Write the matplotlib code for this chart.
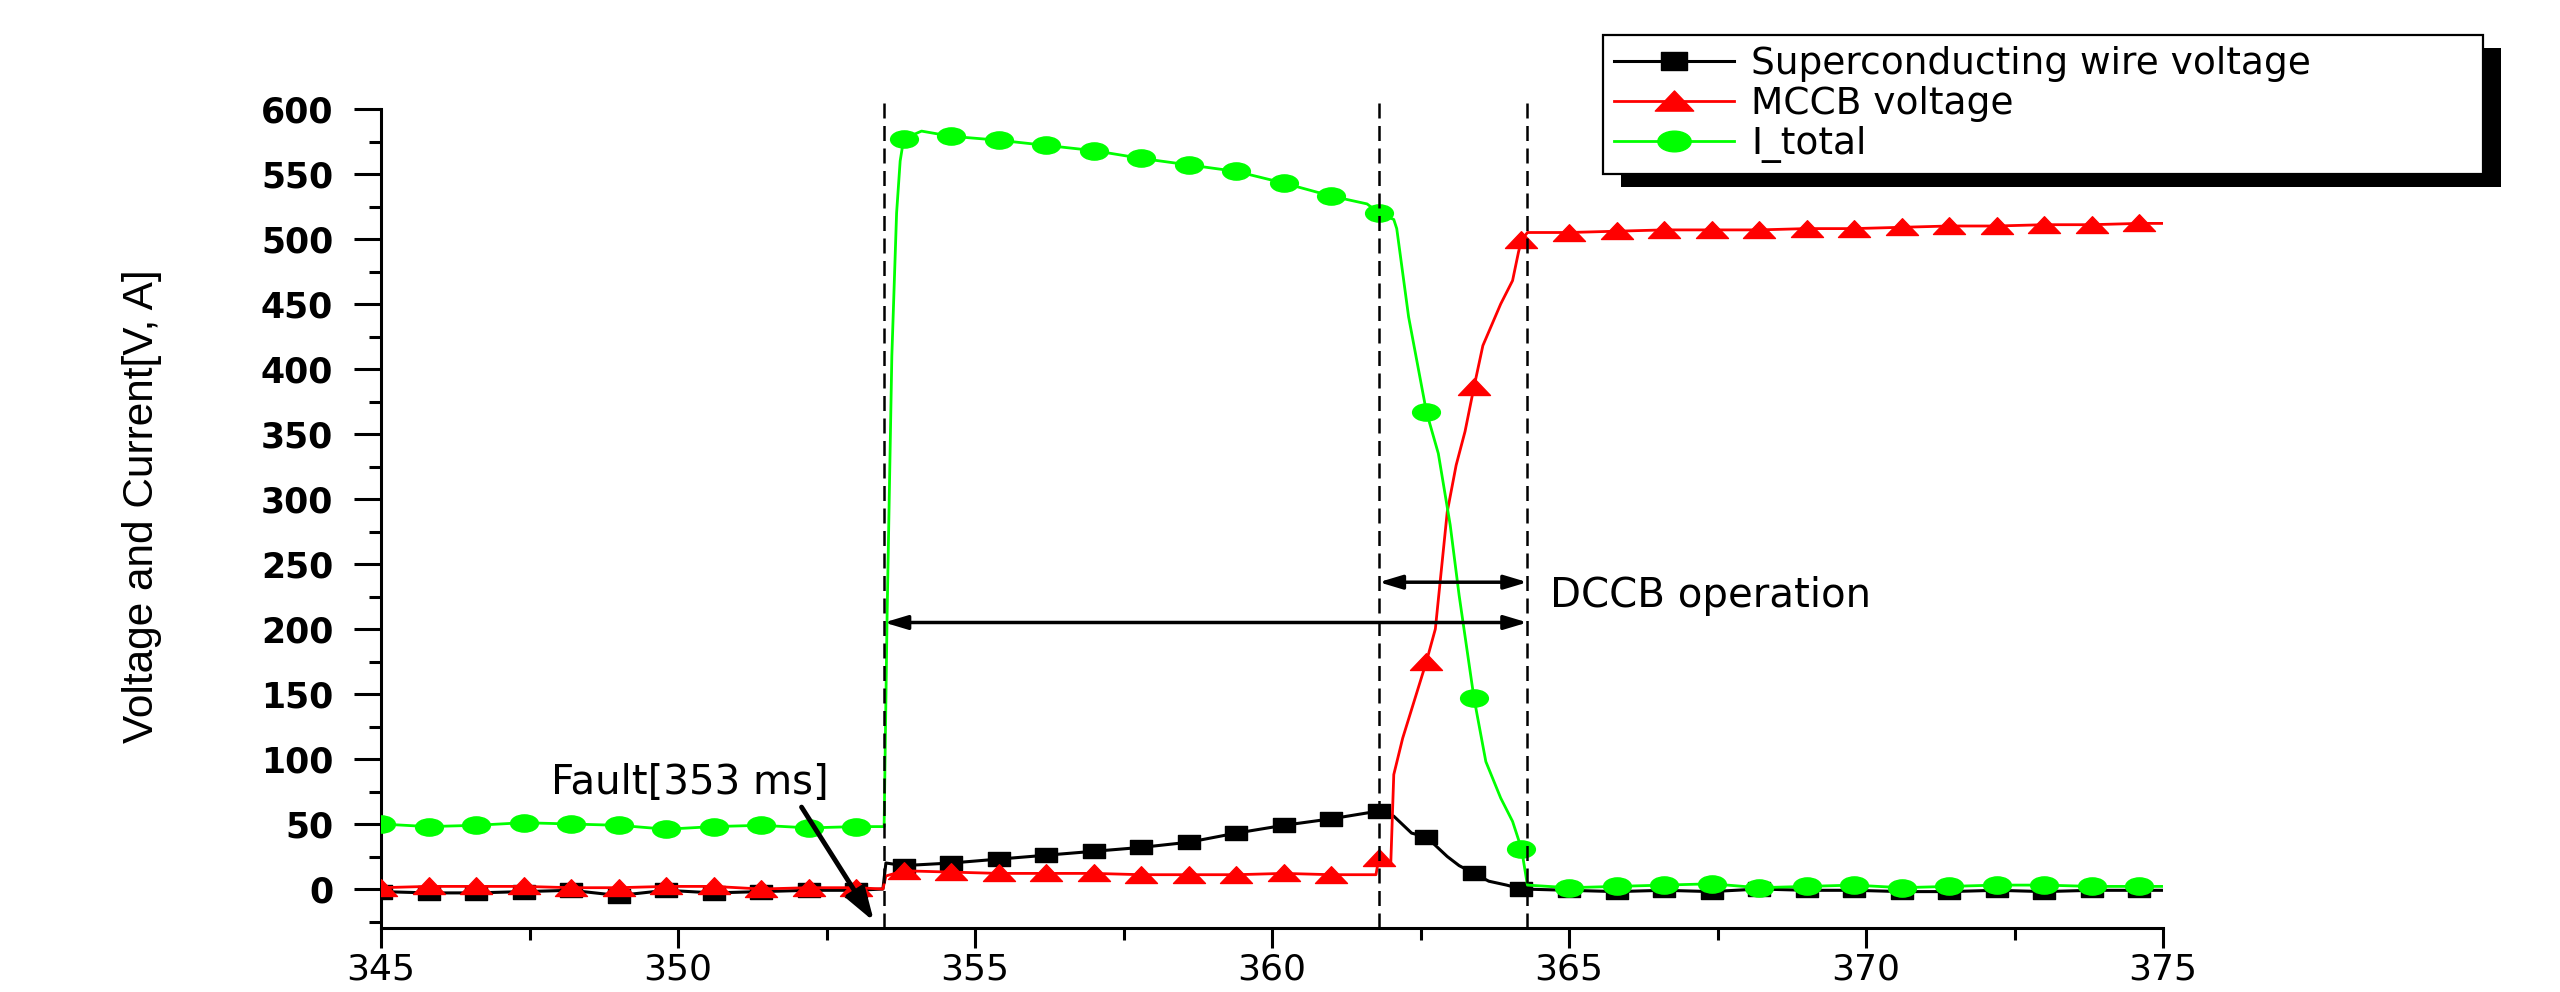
import numpy as np
import matplotlib
matplotlib.use("Agg")
import matplotlib.pyplot as plt
from matplotlib.path import Path
from matplotlib.transforms import Affine2D
from matplotlib.patches import Rectangle

# ---------------- data ----------------
MARK_T = [345.0, 345.8, 346.6, 347.4, 348.2, 349.0, 349.8, 350.6, 351.4, 352.2, 353.0,
          353.8, 354.6, 355.4, 356.2, 357.0, 357.8, 358.6, 359.4, 360.2, 361.0, 361.8,
          362.6, 363.4, 364.2, 365.0, 365.8, 366.6, 367.4, 368.2, 369.0, 369.8, 370.6,
          371.4, 372.2, 373.0, 373.8, 374.6]

t_sc = [345.0, 345.8, 346.6, 347.4, 348.2, 349.0, 349.8, 350.6, 351.4, 352.2, 353.0,
        353.45, 353.5, 353.8, 354.6, 355.4, 356.2, 357.0, 357.8, 358.6, 359.4, 360.2,
        361.0, 361.8, 362.05, 362.35, 362.6, 362.95, 363.15, 363.4, 363.65, 363.95,
        364.2, 365.0, 365.8, 366.6, 367.4, 368.2, 369.0, 369.8, 370.6, 371.4, 372.2,
        373.0, 373.8, 374.6, 375.0]
v_sc = [-2, -3, -3, -2, -1, -5, -1, -3, -2, -1, -1,
        0, 20, 18, 20, 23, 26, 29, 32, 36, 43, 49,
        54, 60, 56, 43, 40, 25, 18, 12, 6, 3,
        0, -1, -2, -1, -2, 0, -1, -1, -2, -2, -1,
        -2, -1, -1, -1]

t_mccb = [345.0, 345.8, 346.6, 347.4, 348.2, 349.0, 349.8, 350.6, 351.4, 352.2, 353.0,
          353.45, 353.5, 353.8, 354.6, 355.4, 356.2, 357.0, 357.8, 358.6, 359.4, 360.2,
          361.0, 361.75, 361.8, 362.0, 362.05, 362.2, 362.6, 362.75, 362.85, 362.95,
          363.1, 363.25, 363.4, 363.55, 363.85, 364.05, 364.15, 364.2, 364.3,
          365.0, 365.8, 366.6, 367.4, 368.2, 369.0, 369.8, 370.6, 371.4, 372.2,
          373.0, 373.8, 374.6, 375.0]
v_mccb = [1, 2, 2, 2, 1, 1, 2, 2, 0, 1, 1,
          0, 10, 14, 13, 12, 12, 12, 11, 11, 11, 12,
          11, 11, 24, 20, 88, 116, 175, 200, 245, 290,
          326, 352, 386, 418, 450, 468, 490, 499, 505,
          505, 506, 507, 507, 507, 508, 508, 509, 510, 510,
          511, 511, 512, 512]

t_itot = [345.0, 345.8, 346.6, 347.4, 348.2, 349.0, 349.8, 350.6, 351.4, 352.2, 353.0,
          353.47, 353.52, 353.6, 353.68, 353.74, 353.8, 354.1, 354.6, 355.4, 356.2,
          357.0, 357.8, 358.6, 359.4, 360.2, 361.0, 361.6, 361.8, 362.05, 362.1,
          362.3, 362.6, 362.8, 363.0, 363.15, 363.4, 363.6, 363.85, 364.05, 364.2,
          364.3, 365.0, 365.8, 366.6, 367.4, 368.2, 369.0, 369.8, 370.6, 371.4,
          372.2, 373.0, 373.8, 374.6, 375.0]
i_tot = [50, 48, 49, 51, 50, 49, 46, 48, 49, 47, 48,
         48, 210, 410, 520, 560, 577, 583, 579, 576, 572,
         568, 562, 557, 552, 543, 533, 527, 520, 515, 508,
         440, 367, 335, 280, 226, 147, 98, 70, 52, 31,
         3, 1, 2, 3, 4, 1, 2, 3, 1, 2,
         3, 3, 2, 2, 2]

T_FAULT, T_OPEN, T_CLEAR = 353.47, 361.8, 364.3
SERIES_LABELS = ["Superconducting wire voltage", "MCCB voltage", "I_total"]
X_TICKS = [345, 350, 355, 360, 365, 370, 375]
Y_TICKS = [0, 50, 100, 150, 200, 250, 300, 350, 400, 450, 500, 550, 600]

# ---------------- style ----------------
plt.rcParams['font.family'] = ['DejaVu Sans']
W, H = 2560, 992
fig = plt.figure(figsize=(W / 100, H / 100), dpi=100)
ax = fig.add_axes([381 / W, 1 - 928 / H, (2163 - 381) / W, (928 - 109) / H])
ax.patch.set_alpha(0)

sq_marker = Path([(-1, -0.66), (1, -0.66), (1, 0.66), (-1, 0.66), (-1, -0.66)],
                 [Path.MOVETO, Path.LINETO, Path.LINETO, Path.LINETO, Path.CLOSEPOLY])
tri_marker = Path([(-1, -0.5), (1, -0.5), (0, 0.55), (-1, -0.5)],
                  [Path.MOVETO, Path.LINETO, Path.LINETO, Path.CLOSEPOLY])
ell_marker = Affine2D().scale(1, 0.62).transform_path(Path.unit_circle())

def mark_idx(t):
    t = np.asarray(t)
    return [int(np.argmin(np.abs(t - m))) for m in MARK_T]

l1, = ax.plot(t_sc, v_sc, color='black', lw=2.2, marker=sq_marker, ms=16,
              markevery=mark_idx(t_sc), zorder=2, label=SERIES_LABELS[0])
l2, = ax.plot(t_mccb, v_mccb, color='#ff0000', lw=2.0, marker=tri_marker, ms=23,
              markevery=mark_idx(t_mccb), zorder=3, label=SERIES_LABELS[1])
l3, = ax.plot(t_itot, i_tot, color='#00ff00', lw=2.0, marker=ell_marker, ms=20,
              markevery=mark_idx(t_itot), zorder=4, label=SERIES_LABELS[2])

ax.set_xlim(345, 375)
ax.set_ylim(-30, 600)
ax.set_xticks(X_TICKS)
ax.set_xticks([347.5, 352.5, 357.5, 362.5, 367.5, 372.5], minor=True)
ax.set_yticks(Y_TICKS)
ax.set_yticks([-25, 25, 75, 125, 175, 225, 275, 325, 375, 425, 475, 525, 575], minor=True)
for s in ['top', 'right']:
    ax.spines[s].set_visible(False)
for s in ['left', 'bottom']:
    ax.spines[s].set_linewidth(2.2)
ax.tick_params(axis='x', which='major', length=14.4, width=2.2, direction='out',
               pad=3, labelsize=26)
ax.tick_params(axis='x', which='minor', length=8.6, width=2.2, direction='out')
ax.tick_params(axis='y', which='major', length=19.4, width=2.2, direction='out',
               pad=15, labelsize=25)
ax.tick_params(axis='y', which='minor', length=8.6, width=2.2, direction='out')
for lab in ax.get_yticklabels():
    lab.set_fontweight('bold')

ax.set_ylabel("Voltage and Current[V, A]", fontsize=30.5,
              family=['Liberation Sans Narrow', 'Liberation Sans', 'DejaVu Sans'])
ax.yaxis.set_label_coords(-0.134, 0.515)
ax.yaxis.label.set_va('center')

# dashed markers of events
for tv in (T_FAULT, T_OPEN, T_CLEAR):
    ax.plot([tv, tv], [-30, 606], color='black', lw=1.8, ls=(0, (6, 3)),
            clip_on=False, zorder=5)

# double arrows
arrow_kw = dict(arrowstyle='<|-|>,head_length=1.0,head_width=0.3',
                lw=2.5, color='black', shrinkA=0, shrinkB=0, mutation_scale=14)
ax.annotate('', xy=(T_CLEAR, 205), xytext=(T_FAULT, 205), arrowprops=arrow_kw, zorder=6)
ax.annotate('', xy=(T_CLEAR, 236), xytext=(T_OPEN, 236), arrowprops=arrow_kw, zorder=6)
ax.text(364.68, 225, "DCCB operation", fontsize=29, ha='left', va='center')

# fault annotation
ax.text(350.2, 81.5, "Fault[353 ms]", fontsize=29, ha='center', va='center')
ax.annotate('', xy=(353.3, -25), xytext=(352.08, 63),
            arrowprops=dict(arrowstyle='-|>,head_length=1.4,head_width=0.45',
                            lw=3.5, color='black', shrinkA=0, shrinkB=0,
                            mutation_scale=14), zorder=6)

# legend
leg = fig.legend(handles=[l1, l2, l3], loc='upper left',
                 bbox_to_anchor=(1603 / W, 1 - 172 / H, (2483 - 1603) / W, (172 - 35) / H),
                 mode='expand', borderaxespad=0, fontsize=27, frameon=True,
                 fancybox=False, framealpha=1, edgecolor='black', numpoints=1,
                 handlelength=3.2, handletextpad=0.45, labelspacing=0.1,
                 borderpad=0.3, markerscale=1.2)
leg.get_frame().set_linewidth(1.6)

fig.canvas.draw()
bb = leg.get_frame().get_window_extent(fig.canvas.get_renderer())
shadow = Rectangle(((bb.x0 + 18) / W, (bb.y0 - 13) / H), bb.width / W, bb.height / H,
                   transform=fig.transFigure, facecolor='black', edgecolor='none',
                   zorder=4.9)
fig.patches.append(shadow)

fig.savefig("out.png", dpi=100, facecolor='white')
